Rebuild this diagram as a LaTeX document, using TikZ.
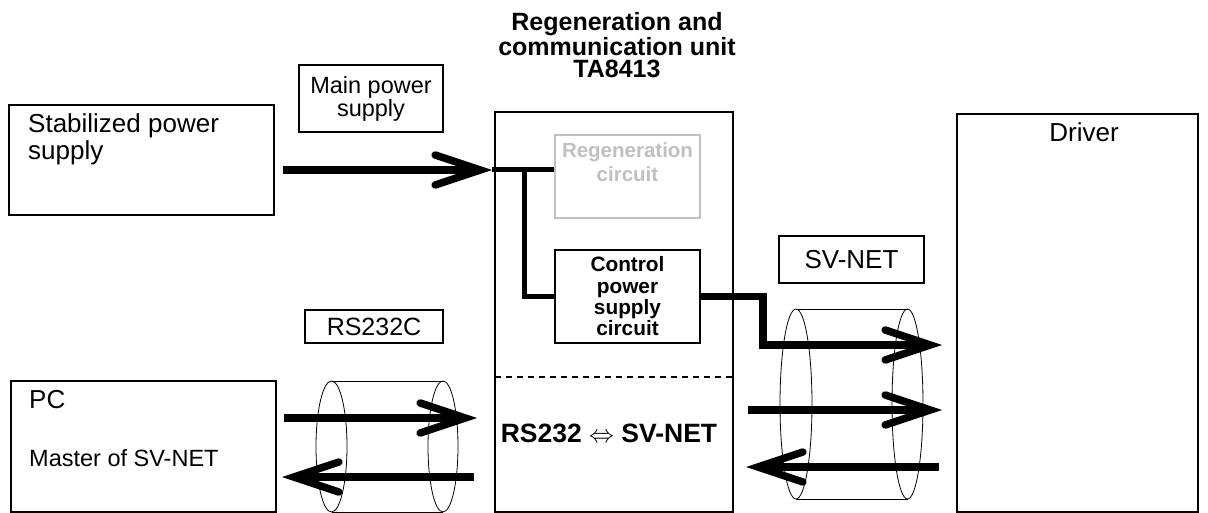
\documentclass[tikz,border=0pt]{standalone}
\usepackage{fontspec}
\setmainfont{Liberation Sans}
\usetikzlibrary{arrows.meta}
\newcommand\fsz[2]{\fontsize{#1}{#2}\selectfont}
\definecolor{regengray}{RGB}{192,192,192}
\begin{document}
\begin{tikzpicture}[x=1pt,y=-1pt,
  box/.style={draw, line width=2pt, inner sep=0pt},
  lbl/.style={inner sep=0pt, anchor=base},
  bigarrow/.style={line width=7.5pt, line join=miter,
    -{Straight Barb[length=45pt,width=30pt,line cap=round,line join=miter]}},
  wire/.style={line width=5pt, line join=miter},
  cyl/.style={line width=0.8pt}
]
\useasboundingbox (0,0) rectangle (1208,513);

% title (base anchor = last line)
\node[lbl, align=center, font=\bfseries\fsz{25}{22.7}] (title) at (617,78)
  {Regeneration and\\communication unit\\TA8413};

% boxes
\node[box, minimum width=265pt, minimum height=110pt] (stab) at (141.5,160) {};
\node[lbl, anchor=base west, align=left, font=\fsz{26}{27}] (stabtxt) at (28,160)
  {Stabilized power\\supply};

\node[box, minimum width=144pt, minimum height=67pt, align=center,
  font=\fsz{23.5}{23}] (mainp) at (371,98.5) {Main power\\supply};

\node[box, line width=2.5pt, minimum width=238pt, minimum height=400pt] (unit) at (614,312) {};

\node[box, draw=regengray, minimum width=145pt, minimum height=83pt] (regen) at (627.5,176.5) {};
\node[lbl, align=center, text=regengray, font=\bfseries\fsz{20.5}{24.5}] (regentxt) at (627.5,182)
  {Regeneration\\circuit};

\node[box, minimum width=145pt, minimum height=93pt, align=center,
  font=\bfseries\fsz{20.8}{21.3}] (ctrl) at (627.5,296.5) {Control\\power\\supply\\circuit};

\coordinate (dl) at (495,377);
\coordinate (dr) at (733,377);
\draw[dashed, line width=1.3pt, dash pattern=on 6pt off 5pt] (dl) -- (dr);

\node[lbl, font=\bfseries\fsz{26.5}{28}] (conv) at (609,442) {RS232 $\Leftrightarrow$ SV-NET};

\node[box, minimum width=138pt, minimum height=33pt, font=\fsz{25}{28}] (rsc) at (374,326.5) {RS232C};

\node[box, minimum width=145pt, minimum height=47pt, font=\fsz{26}{28}] (svn) at (851.5,259.5) {SV-NET};

\node[box, minimum width=265pt, minimum height=131pt] (pc) at (143.5,446.5) {};
\node[lbl, anchor=base west, font=\fsz{26}{28}] (pctxt) at (29,408) {PC};
\node[lbl, anchor=base west, font=\fsz{23.5}{26}] (mastxt) at (29,466) {Master of SV-NET};

\node[box, minimum width=241pt, minimum height=398pt] (drv) at (1077.5,313) {};
\node[lbl, font=\fsz{26}{28}] (drvtxt) at (1084,142) {Driver};

% cylinders
\draw[cyl] (331.5,446.5) ellipse [x radius=15.5pt, y radius=65.5pt];
\draw[cyl] (443,446.5) ellipse [x radius=15pt, y radius=65.5pt];
\draw[cyl] (331.5,381) -- (443,381) (331.5,512) -- (443,512);

\draw[cyl] (796,404) ellipse [x radius=16pt, y radius=95pt];
\draw[cyl] (907.5,404) ellipse [x radius=15.5pt, y radius=95pt];
\draw[cyl] (796,309) -- (907.5,309) (796,499) -- (907.5,499);

% main power arrow and wiring
\coordinate (ma1) at (283,170);
\coordinate (ma2) at (492,170);
\draw[bigarrow] (ma1) -- (ma2);
\coordinate (jn) at (524,170);
\draw[wire] (ma2) -- (regen.west |- ma2);
\draw[wire] (jn) |- (ctrl.west);

% control output to driver
\coordinate (s1) at (763,345);
\coordinate (t1) at (942,345);
\draw[bigarrow] (ctrl.east) -| (s1) -- (t1);

% SV-NET arrows
\coordinate (s2) at (748,410);
\coordinate (t2) at (942,410);
\draw[bigarrow] (s2) -- (t2);
\coordinate (s3) at (939,467);
\coordinate (t3) at (746,467);
\draw[bigarrow] (s3) -- (t3);

% RS232 arrows
\coordinate (r1) at (284,418);
\coordinate (r1e) at (477,418);
\draw[bigarrow] (r1) -- (r1e);
\coordinate (r2) at (474,477);
\coordinate (r2e) at (282,477);
\draw[bigarrow] (r2) -- (r2e);
\end{tikzpicture}
\end{document}
